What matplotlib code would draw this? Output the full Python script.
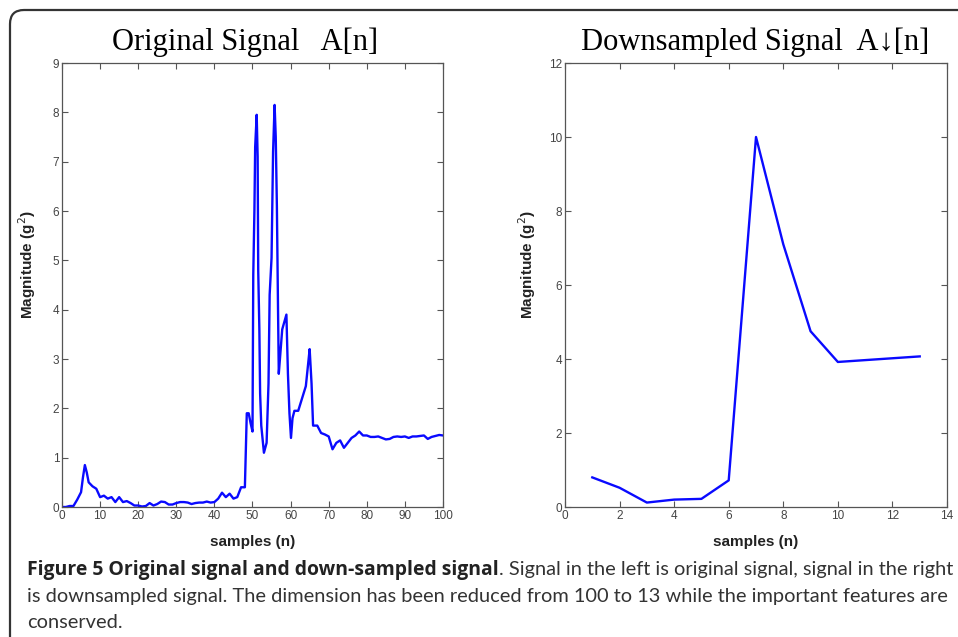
import matplotlib
matplotlib.use("Agg")
import matplotlib.pyplot as plt
from matplotlib.patches import FancyBboxPatch
from matplotlib.transforms import IdentityTransform

# left panel: original signal A[n]
orig_n = [0, 1, 2, 3, 4, 5, 5.5, 6, 6.5, 7, 8, 9, 10, 11, 12, 13, 14, 15, 16, 17, 18, 19,
          20, 21, 22, 23, 24, 25, 26, 27, 28, 29, 30, 31, 32, 33, 34, 35, 36, 37, 38, 39,
          40, 41, 42, 43, 44, 45, 46, 47, 48, 48.5, 49, 49.5, 50, 50.2, 50.5, 50.7, 51.1,
          51.35, 51.5, 51.8, 52, 52.3, 53, 53.7, 54.2, 54.5, 55, 55.4, 55.8, 56.1, 56.4,
          56.7, 56.9, 57.3, 57.8, 58.9, 59.3, 59.7, 60.1, 60.5, 61, 62, 63, 64, 64.6, 65,
          65.5, 65.9, 67, 68, 69, 70, 71, 72, 73, 74, 75, 76, 77, 78, 79, 80, 81, 82, 83,
          84, 85, 86, 87, 88, 89, 90, 91, 92, 93, 94, 95, 96, 97, 98, 99, 100]
orig_a = [0.0, 0.0, 0.02, 0.02, 0.15, 0.3, 0.6, 0.85, 0.7, 0.5, 0.42, 0.37, 0.2, 0.23, 0.17,
          0.2, 0.1, 0.2, 0.1, 0.12, 0.08, 0.03, 0.03, 0.01, 0.02, 0.08, 0.03, 0.06, 0.11,
          0.1, 0.05, 0.05, 0.08, 0.1, 0.1, 0.09, 0.06, 0.08, 0.09, 0.09, 0.11, 0.09, 0.1,
          0.17, 0.29, 0.2, 0.27, 0.17, 0.2, 0.4, 0.4, 1.9, 1.9, 1.7, 1.53, 4.7, 6.0, 7.3,
          7.95, 7.1, 4.8, 3.6, 2.3, 1.65, 1.1, 1.3, 2.5, 4.3, 5.05, 7.2, 8.15, 7.5, 6.1,
          4.0, 2.7, 3.1, 3.6, 3.9, 2.7, 1.9, 1.4, 1.8, 1.95, 1.95, 2.2, 2.45, 2.9, 3.2,
          2.5, 1.65, 1.65, 1.5, 1.47, 1.43, 1.17, 1.3, 1.35, 1.2, 1.3, 1.4, 1.45, 1.53,
          1.45, 1.45, 1.42, 1.42, 1.43, 1.4, 1.37, 1.38, 1.42, 1.43, 1.42, 1.43, 1.4, 1.43,
          1.43, 1.44, 1.45, 1.38, 1.42, 1.44, 1.46, 1.45]

# right panel: downsampled signal
down_n = [1, 2, 3, 4, 5, 6, 7, 8, 9, 10, 11, 12, 13]
down_a = [0.8, 0.52, 0.12, 0.2, 0.22, 0.72, 10.0, 7.1, 4.75, 3.92, 3.97, 4.02, 4.07]

left_xticks = [0, 10, 20, 30, 40, 50, 60, 70, 80, 90, 100]
left_yticks = [0, 1, 2, 3, 4, 5, 6, 7, 8, 9]
right_xticks = [0, 2, 4, 6, 8, 10, 12, 14]
right_yticks = [0, 2, 4, 6, 8, 10, 12]

title_left = "Original Signal   A[n]"
title_right = "Downsampled Signal  A\u2193[n]"
caption_bold = "Figure 5 Original signal and down-sampled signal"
caption_rest = [". Signal in the left is original signal, signal in the right",
                "is downsampled signal. The dimension has been reduced from 100 to 13 while the important features are",
                "conserved."]

W, H = 958, 637
fig = plt.figure(figsize=(W / 100, H / 100), dpi=100)
fig.patch.set_facecolor("white")

def px_axes(x0, y0, x1, y1):
    return fig.add_axes([x0 / W, 1 - y1 / H, (x1 - x0) / W, (y1 - y0) / H])

def style(ax, xt, yt, xlim, ylim):
    ax.set_xlim(*xlim)
    ax.set_ylim(*ylim)
    ax.set_xticks(xt)
    ax.set_yticks(yt)
    ax.tick_params(direction="in", length=4, width=0.8, top=True, right=True,
                   labelsize=8.5, labelcolor="#444444", color="#555555", pad=2)
    for lab in ax.get_xticklabels() + ax.get_yticklabels():
        lab.set_family("Liberation Sans")
    for s in ax.spines.values():
        s.set_color("#555555")
        s.set_linewidth(0.9)
    ax.set_xlabel("samples (n)", family="Liberation Sans", fontsize=11, weight="bold", color="#222222")
    ax.set_ylabel("Magnitude (g$^2$)", family="Liberation Sans", fontsize=11, weight="bold", color="#222222")
    ax.xaxis.set_label_coords(0.5, -0.063)

ax1 = px_axes(62, 63, 443, 507)
ax1.plot(orig_n, orig_a, color="#0a0aff", lw=1.7)
style(ax1, left_xticks, left_yticks, (0, 100), (0, 9))
ax1.yaxis.set_label_coords(-0.063, 0.545)

ax2 = px_axes(565, 63, 947, 507)
ax2.plot(down_n, down_a, color="#0a0aff", lw=1.7)
style(ax2, right_xticks, right_yticks, (0, 14), (0, 12))
ax2.yaxis.set_label_coords(-0.071, 0.545)

serif = ["Liberation Serif", "DejaVu Serif"]
fig.text(245 / W, 1 - 50 / H, title_left, family=serif, fontsize=22, ha="center", va="baseline")
fig.text(755 / W, 1 - 50 / H, title_right, family=serif, fontsize=22, ha="center", va="baseline")

# rounded frame around the figure
frame = FancyBboxPatch((10, -40), 1000, H - 10 + 40, boxstyle="round,pad=0,rounding_size=14",
                       transform=IdentityTransform(), fill=False, edgecolor="#333333", lw=1.6)
fig.patches.append(frame)

# caption, fitted to the line widths of the reference
fig.canvas.draw()
r = fig.canvas.get_renderer()
reg_font = "Lato"
bold_font = "Open Sans"
size = 12
probe_2 = fig.text(0, 0, caption_rest[1], family=reg_font, fontsize=size)
size = size * 917 / probe_2.get_window_extent(r).width
probe_2.remove()
probe_b = fig.text(0, 0, caption_bold, family=bold_font, weight="bold", fontsize=size)
probe_r = fig.text(0, 0, caption_rest[0], family=reg_font, fontsize=size)
wr = probe_r.get_window_extent(r).width
bsize = size * (927 - wr) / probe_b.get_window_extent(r).width
probe_b.remove()
probe_r.remove()

x0 = 27 / W
tb = fig.text(x0, 1 - 575 / H, caption_bold, family=bold_font, weight="bold", fontsize=bsize,
              color="#222222", va="baseline")
wb = tb.get_window_extent(r).width
fig.text(x0 + wb / W, 1 - 575 / H, caption_rest[0], family=reg_font, fontsize=size,
         color="#333333", va="baseline")
fig.text(x0, 1 - 602 / H, caption_rest[1], family=reg_font, fontsize=size, color="#333333", va="baseline")
fig.text(x0, 1 - 628 / H, caption_rest[2], family=reg_font, fontsize=size, color="#333333", va="baseline")

fig.savefig("out.png", dpi=100)
